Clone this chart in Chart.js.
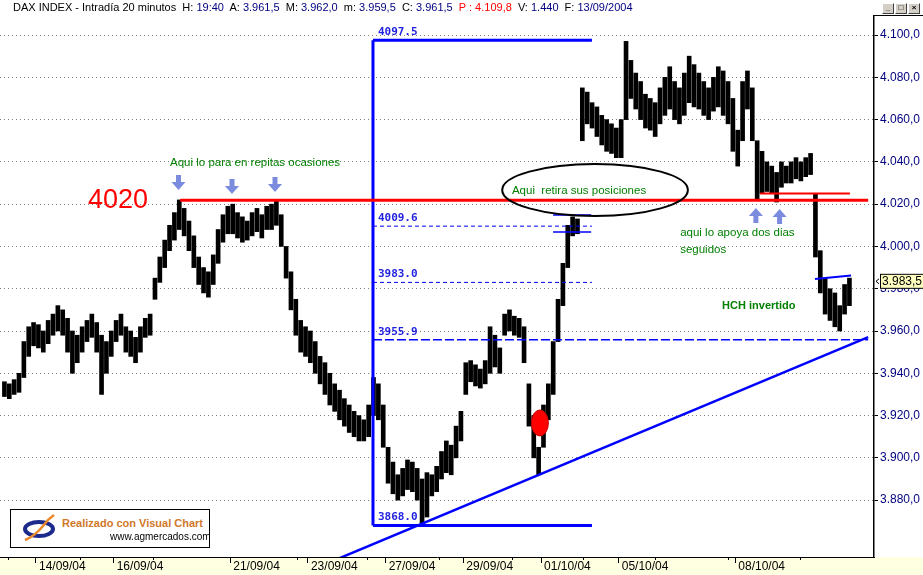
<!DOCTYPE html>
<html>
<head>
<meta charset="utf-8">
<script src="https://cdn.jsdelivr.net/npm/chart.js@4.4.1/dist/chart.umd.min.js"></script>
<style>
  body { margin: 0; background: #fff; }
  #wrap { position: relative; width: 923px; height: 575px; overflow: hidden; }
  #hdr { position: absolute; left: 13px; top: 1px; font: 11px "Liberation Sans", Arial, sans-serif; white-space: pre; color: #000; }
  #hdr .v { color: #000080; }
  #hdr .r { color: #ff0000; }
  .btn { position: absolute; top: 3px; width: 10px; height: 9px; background: #d4d0c8; border: 1px solid; border-color: #fff #404040 #404040 #fff; font: bold 8px "Liberation Sans", Arial; line-height: 8px; text-align: center; color: #000; }
  #logo { position: absolute; left: 10px; top: 509px; width: 198px; height: 37px; border: 1px solid #000; background: #fff; }
  #logo .t1 { position: absolute; left: 51px; top: 7px; font: bold 11px "Liberation Sans", Arial; color: #d0782a; white-space: nowrap; }
  #logo .t2 { position: absolute; left: 99px; top: 21px; font: 10px "Liberation Sans", Arial; color: #000; white-space: nowrap; }
  #logo svg { position: absolute; left: 10px; top: 4px; }
</style>
</head>
<body>
<div id="wrap">
  <canvas id="myChart" width="923" height="575"></canvas>
  <div id="hdr">DAX INDEX - Intradía 20 minutos  H: <span class="v">19:40</span>  A: <span class="v">3.961,5</span>  M: <span class="v">3.962,0</span>  m: <span class="v">3.959,5</span>  C: <span class="v">3.961,5</span>  <span class="r">P : 4.109,8</span>  V: <span class="v">1.440</span>  F: <span class="v">13/09/2004</span></div>
  <div class="btn" style="left:882px">_</div>
  <div class="btn" style="left:895px">□</div>
  <div class="btn" style="left:908px">×</div>
  <div id="logo">
    <svg width="40" height="30" viewBox="0 0 40 30">
      <ellipse cx="18" cy="15" rx="14" ry="7" fill="none" stroke="#1c2a8c" stroke-width="4"/>
      <path d="M4 26 Q14 22 22 12 Q27 5 33 1" fill="none" stroke="#e8882a" stroke-width="2.5"/>
    </svg>
    <div class="t1">Realizado con Visual Chart</div>
    <div class="t2">www.agmercados.com</div>
  </div>
</div>
<script>
// 8 barras por sesion (alto / bajo), 13/09/04 .. 12/10/04
const barHigh = [
  [null, 3936, 3935, 3937, 3940, 3955, 3962, 3964],
  [3963, 3960, 3965, 3968, 3972, 3970, 3966, 3960],
  [3958, 3962, 3965, 3968, 3964, 3958, 3955, 3960],
  [3965, 3968, 3962, 3960, 3957, 3962, 3966, 3968],
  [3985, 3995, 4003, 4010, 4016, 4022, 4018, 4012],
  [4005, 3995, 3990, 3988, 3996, 4008, 4015, 4019],
  [4020, 4016, 4014, 4012, 4016, 4018, 4015, 4019],
  [4020, 4022, 4015, 4000, 3988, 3975, 3965, 3962],
  [3960, 3955, 3948, 3945, 3940, 3935, 3932, 3928],
  [3925, 3922, 3920, 3918, 3925, 3938, 3935, 3925],
  [3905, 3898, 3892, 3895, 3899, 3898, 3895, 3890],
  [3893, 3892, 3896, 3903, 3908, 3906, 3915, 3922],
  [3945, 3946, 3944, 3942, 3946, 3962, 3958, 3952],
  [3968, 3970, 3967, 3966, 3962, 3935, 3920, 3905],
  [3925, 3935, 3955, 3975, 3992, 4010, 4014, 4013],
  [4075, 4073, 4068, 4066, 4062, 4060, 4058, 4056],
  [4060, 4097, 4088, 4082, 4078, 4072, 4070, 4068],
  [4075, 4080, 4085, 4078, 4075, 4082, 4090, 4086],
  [4082, 4078, 4075, 4080, 4085, 4083, 4078, 4070],
  [4055, 4078, 4083, 4075, 4050, 4045, 4040, 4038],
  [4035, 4040, 4038, 4040, 4042, 4040, 4042, 4044],
  [4025, 3998, 3985, 3980, 3978, 3972, 3982, 3985]
];
const barLow = [
  [null, 3929, 3928, 3930, 3931, 3938, 3948, 3953],
  [3952, 3950, 3954, 3958, 3960, 3958, 3950, 3940],
  [3945, 3950, 3955, 3957, 3950, 3930, 3940, 3948],
  [3955, 3958, 3950, 3948, 3945, 3950, 3957, 3958],
  [3975, 3983, 3990, 3998, 4003, 4008, 4005, 3998],
  [3990, 3982, 3978, 3976, 3982, 3992, 4002, 4006],
  [4006, 4004, 4002, 4003, 4005, 4007, 4004, 4008],
  [4008, 4010, 4000, 3985, 3970, 3958, 3950, 3948],
  [3945, 3940, 3935, 3930, 3925, 3922, 3918, 3915],
  [3912, 3910, 3908, 3908, 3910, 3920, 3918, 3905],
  [3888, 3883, 3880, 3882, 3885, 3884, 3880, 3869],
  [3872, 3882, 3884, 3890, 3893, 3892, 3900, 3908],
  [3930, 3936, 3934, 3933, 3935, 3940, 3943, 3940],
  [3958, 3960, 3958, 3957, 3945, 3915, 3900, 3892],
  [3905, 3918, 3930, 3955, 3972, 3990, 4005, 4006],
  [4050, 4058, 4056, 4052, 4048, 4045, 4044, 4042],
  [4042, 4060, 4070, 4065, 4060, 4056, 4055, 4052],
  [4058, 4062, 4065, 4060, 4058, 4062, 4068, 4066],
  [4065, 4062, 4060, 4064, 4066, 4062, 4058, 4045],
  [4038, 4050, 4065, 4050, 4022, 4025, 4026, 4025],
  [4021, 4028, 4030, 4030, 4032, 4031, 4033, 4034],
  [3995, 3978, 3968, 3965, 3962, 3960, 3968, 3972]
];
const tickDays = [1, 3, 6, 8, 10, 12, 14, 16, 19];
const tickLabels = ['14/09/04', '16/09/04', '21/09/04', '23/09/04', '27/09/04', '29/09/04', '01/10/04', '05/10/04', '08/10/04'];
const minorTickDays = [0.28, 2.13, 4.01, 7.72, 9.52, 11.37, 13.25, 15.08, 16.93, 18.81, 20.66];
const yTicks = [3880, 3900, 3920, 3940, 3960, 3980, 4000, 4020, 4040, 4060, 4080, 4100];
const fibLevels = [4097.5, 4009.6, 3983.0, 3955.9, 3868.0];
const lastPrice = 3983.5;

const points = [];
barHigh.forEach((day, k) => {
    day.forEach((hi, j) => {
        if (hi === null) return;
        points.push({ x: k + (j + 0.5) / 8, y: [barLow[k][j], hi] });
    });
});

function fmt(v) {
    const [i, f] = v.toFixed(1).split('.');
    return i.replace(/\B(?=(\d{3})+$)/g, '.') + ',' + f;
}

const green = '#008000';
const blue = '#0000ff';
const arrowCol = '#7b8cde';

const overlay = {
    id: 'overlay',
    beforeDraw(chart) {
        const c = chart.ctx;
        c.save();
        c.fillStyle = '#fff';
        c.fillRect(0, 0, chart.width, chart.height);
        c.fillStyle = '#ffffe1';
        c.fillRect(0, chart.chartArea.bottom, chart.width, chart.height - chart.chartArea.bottom);
        c.restore();
    },
    afterDatasetsDraw(chart) {
        const { ctx: c, chartArea: a, scales: { x, y } } = chart;
        const X = v => x.getPixelForValue(v);
        const Y = v => y.getPixelForValue(v);

        function line(x1, p1, x2, p2, col, w, dash) {
            c.beginPath();
            c.setLineDash(dash || []);
            c.strokeStyle = col;
            c.lineWidth = w;
            c.moveTo(X(x1), Y(p1));
            c.lineTo(X(x2), Y(p2));
            c.stroke();
            c.setLineDash([]);
        }
        function text(s, d, p, col, font) {
            c.fillStyle = col;
            c.font = font;
            c.textBaseline = 'middle';
            c.textAlign = 'left';
            c.fillText(s, X(d), Y(p));
        }
        function arrow(d, p, up) {
            const tx = X(d), ty = Y(p), s = up ? -1 : 1;
            c.fillStyle = arrowCol;
            c.beginPath();
            c.moveTo(tx, ty);
            c.lineTo(tx - 7, ty - s * 8);
            c.lineTo(tx - 2.5, ty - s * 8);
            c.lineTo(tx - 2.5, ty - s * 15);
            c.lineTo(tx + 2.5, ty - s * 15);
            c.lineTo(tx + 2.5, ty - s * 8);
            c.lineTo(tx + 7, ty - s * 8);
            c.closePath();
            c.fill();
        }

        c.save();
        c.beginPath();
        c.rect(a.left, a.top, a.right - a.left, a.bottom - a.top);
        c.clip();

        // retroceso de Fibonacci
        const f0 = 9.674, f1 = 15.31;
        line(f0, fibLevels[0], f0, fibLevels[4], blue, 3);
        line(f0, fibLevels[0], f1, fibLevels[0], blue, 3);
        line(f0, fibLevels[4], f1, fibLevels[4], blue, 3);
        line(f0, fibLevels[1], f1, fibLevels[1], blue, 1, [4, 3]);
        line(f0, fibLevels[2], f1, fibLevels[2], blue, 1, [4, 3]);
        line(f0, fibLevels[3], 22.42, fibLevels[3], blue, 1.5, [9, 3]);
        fibLevels.forEach(v => {
            c.fillStyle = '#1f1fe0';
            c.font = 'bold 11px "DejaVu Sans Mono", monospace';
            c.textBaseline = 'alphabetic';
            c.textAlign = 'left';
            c.fillText(v.toFixed(1), X(9.80), Y(v) - 5);
        });

        // directriz alcista
        line(8.0, 3846.3, 22.42, 3957.1, blue, 2.5);

        // resistencia 4020
        line(4.71, 4021.8, 22.42, 4021.8, '#ff0000', 3);
        line(19.64, 4025, 21.95, 4025, '#ff0000', 2);

        // pequenas lineas azules
        line(14.31, 4014.9, 15.29, 4014.9, blue, 1.5);
        line(14.31, 4006.8, 15.29, 4006.8, blue, 1.5);
        line(21.05, 3984.6, 21.98, 3986.2, blue, 2);

        // elipse
        c.beginPath();
        c.strokeStyle = '#000';
        c.lineWidth = 2;
        const ex = X(15.39), ey = Y(4026.7);
        c.ellipse(ex, ey, X(15.39 + 2.39) - ex, Y(4026.7 - 12.3) - ey, 0, 0, Math.PI * 2);
        c.stroke();

        // punto rojo
        c.beginPath();
        c.fillStyle = '#ff0000';
        const rx = X(13.97), ry = Y(3916.5);
        c.ellipse(rx, ry, X(13.97 + 0.219) - rx, Y(3916.5 - 6.15) - ry, 0, 0, Math.PI * 2);
        c.fill();
        c.strokeStyle = '#c00000';
        c.lineWidth = 1;
        c.stroke();

        // flechas
        arrow(4.668, 4026.7, false);
        arrow(6.045, 4024.8, false);
        arrow(7.152, 4025.7, false);
        arrow(19.53, 4018.2, true);
        arrow(20.14, 4017.7, true);

        // textos
        text('4020', 2.34, 4021.9, '#ff0000', '27px "Liberation Sans", Arial');
        text('Aqui lo para en repitas ocasiones', 4.45, 4039.4, green, '11.5px "Liberation Sans", Arial');
        text('Aqui  retira sus posiciones', 13.25, 4026.2, green, '11.5px "Liberation Sans", Arial');
        text('aqui lo apoya dos dias', 17.58, 4006.3, green, '11.5px "Liberation Sans", Arial');
        text('seguidos', 17.58, 3998.3, green, '11.5px "Liberation Sans", Arial');
        text('HCH invertido', 18.66, 3971.8, green, 'bold 11px "Liberation Sans", Arial');
        c.restore();

        // marco del eje derecho y marcas menores del eje x
        c.save();
        c.strokeStyle = '#000';
        c.lineWidth = 1;
        c.beginPath();
        c.moveTo(a.right, 15.5);
        c.lineTo(chart.width, 15.5);
        c.moveTo(a.right, 15.5);
        c.lineTo(a.right, a.top);
        minorTickDays.forEach(d => {
            const mx = Math.round(X(d)) + 0.5;
            c.moveTo(mx, a.bottom);
            c.lineTo(mx, a.bottom + 3);
        });
        c.stroke();

        // ultimo precio
        const ly = Y(lastPrice);
        c.fillStyle = '#ffffc0';
        c.fillRect(a.right + 6.5, ly - 7, 50, 14);
        c.strokeRect(a.right + 6.5, ly - 7, 50, 14);
        c.fillStyle = '#000';
        c.font = '12px "Liberation Sans", Arial';
        c.textBaseline = 'middle';
        c.textAlign = 'left';
        c.fillText(fmt(lastPrice), a.right + 8, ly + 0.5);
        c.beginPath();
        c.moveTo(a.right + 2, ly);
        c.lineTo(a.right + 5, ly - 2.5);
        c.moveTo(a.right + 2, ly);
        c.lineTo(a.right + 5, ly + 2.5);
        c.stroke();
        c.restore();
    }
};

const ctx = document.getElementById('myChart').getContext('2d');
new Chart(ctx, {
    type: 'bar',
    data: {
        datasets: [{
            data: points,
            backgroundColor: '#000',
            borderWidth: 0,
            barThickness: 4
        }]
    },
    options: {
        responsive: false,
        animation: false,
        layout: { padding: { top: 16, left: 0, right: 0, bottom: 0 } },
        plugins: {
            legend: { display: false },
            tooltip: { enabled: false }
        },
        scales: {
            x: {
                type: 'linear',
                offset: false,
                min: 0.0734,
                max: 22.57,
                afterBuildTicks: s => { s.ticks = tickDays.map(v => ({ value: v })); },
                afterFit: s => { s.height = 18; },
                ticks: {
                    callback: (v, i) => tickLabels[i],
                    align: 'start',
                    labelOffset: 3,
                    padding: -4,
                    maxRotation: 0,
                    autoSkip: false,
                    color: '#000',
                    font: { family: '"Liberation Sans", Arial', size: 12 }
                },
                grid: { offset: false, drawOnChartArea: false, tickLength: 6, color: '#000' },
                border: { color: '#000', width: 1 }
            },
            y: {
                position: 'right',
                min: 3853.1,
                max: 4109.0,
                afterBuildTicks: s => { s.ticks = yTicks.map(v => ({ value: v })); },
                afterFit: s => { s.width = 49; },
                ticks: {
                    callback: v => fmt(v),
                    color: '#000080',
                    padding: 2,
                    font: { family: '"Liberation Sans", Arial', size: 12 }
                },
                grid: { color: '#808080', tickLength: 4, tickColor: '#000', lineWidth: 1 },
                border: { color: '#000', width: 1.5, dash: [1, 3] }
            }
        }
    },
    plugins: [overlay]
});
</script>
</body>
</html>
